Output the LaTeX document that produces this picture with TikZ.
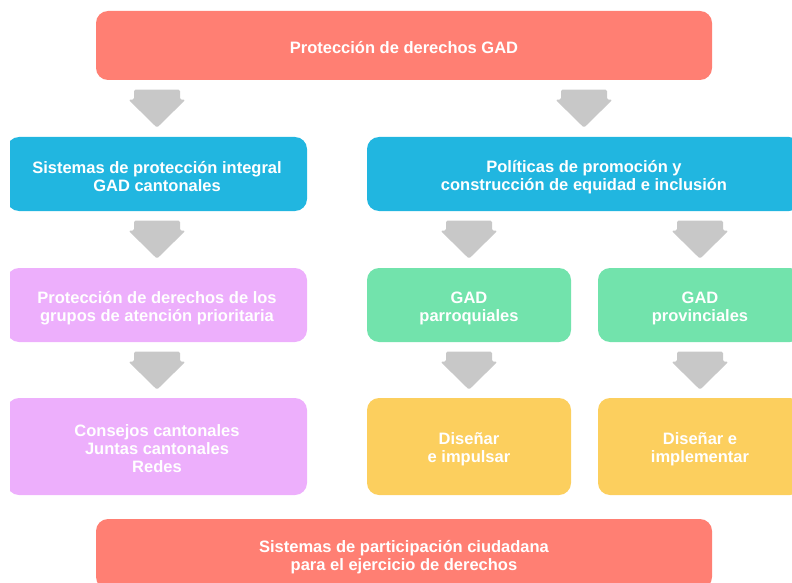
\documentclass[tikz,border=0pt]{standalone}
\usepackage{fontspec}
\setmainfont{Liberation Sans}
\usetikzlibrary{calc}
\definecolor{cred}{RGB}{255,127,115}
\definecolor{cblue}{RGB}{33,182,224}
\definecolor{cpink}{RGB}{237,175,252}
\definecolor{cgreen}{RGB}{114,227,172}
\definecolor{cyellow}{RGB}{252,207,94}
\definecolor{cgray}{RGB}{200,200,200}
\newcommand\blockarrow[2]{%
  \fill[grayarrow,shift={($(#2.north |- #1.south)+(0,-9.5)$)}]
    (-23,0) -- (23,0) -- (23,-10) -- (28.5,-10) -- (0,-38) -- (-28.5,-10) -- (-23,-10) -- cycle;}
\begin{document}
\begin{tikzpicture}[x=1pt,y=1pt,
  box/.style={rounded corners=12pt, inner sep=0pt},
  txt/.style={inner sep=0pt, text=white,
    font=\fontsize{16.5}{18}\selectfont\bfseries, align=center},
  grayarrow/.style={fill=cgray, rounded corners=1.5pt}]
\useasboundingbox (0,0) rectangle (792,-583);
\clip (10,0) rectangle (792,-583);
\node[box, fill=cred, minimum width=616pt, minimum height=69pt] (top) at (404,-45.5) {};
\node[txt] (topT) at ([yshift=-2.5pt]top.center) {Protección de derechos GAD};
\node[box, fill=cblue, minimum width=300pt, minimum height=74pt] (bl) at (157,-174) {};
\node[txt] (blT) at ([yshift=-3pt]bl.center) {Sistemas de protección integral\\GAD cantonales};
\node[box, fill=cblue, minimum width=434pt, minimum height=74pt] (br) at (584,-174) {};
\node[txt] (brT) at ([yshift=-3pt]br.center) {Políticas de promoción y\\construcción de equidad e inclusión};
\node[box, fill=cpink, minimum width=300pt, minimum height=74pt] (p1) at (157,-305) {};
\node[txt] (p1T) at ([yshift=-3pt]p1.center) {Protección de derechos de los\\grupos de atención prioritaria};
\node[box, fill=cgreen, minimum width=204pt, minimum height=74pt] (g1) at (469,-305) {};
\node[txt] (g1T) at ([yshift=-3pt]g1.center) {GAD\\parroquiales};
\node[box, fill=cgreen, minimum width=204pt, minimum height=74pt] (g2) at (700,-305) {};
\node[txt] (g2T) at ([yshift=-3pt]g2.center) {GAD\\provinciales};
\node[box, fill=cpink, minimum width=300pt, minimum height=97pt] (p2) at (157,-446.5) {};
\node[txt] (p2T) at ([yshift=-2.5pt]p2.center) {Consejos cantonales\\Juntas cantonales\\Redes};
\node[box, fill=cyellow, minimum width=204pt, minimum height=97pt] (y1) at (469,-446.5) {};
\node[txt] (y1T) at ([yshift=-3pt]y1.center) {Diseñar\\e impulsar};
\node[box, fill=cyellow, minimum width=204pt, minimum height=97pt] (y2) at (700,-446.5) {};
\node[txt] (y2T) at ([yshift=-3pt]y2.center) {Diseñar e\\implementar};
\node[box, fill=cred, minimum width=616pt, minimum height=70pt] (bot) at (404,-554) {};
\node[txt] (botT) at ([yshift=-3.5pt]bot.center) {Sistemas de participación ciudadana\\para el ejercicio de derechos};
\blockarrow{top}{bl}
\blockarrow{top}{br}
\blockarrow{bl}{p1}
\blockarrow{br}{g1}
\blockarrow{br}{g2}
\blockarrow{p1}{p2}
\blockarrow{g1}{y1}
\blockarrow{g2}{y2}
\end{tikzpicture}
\end{document}
